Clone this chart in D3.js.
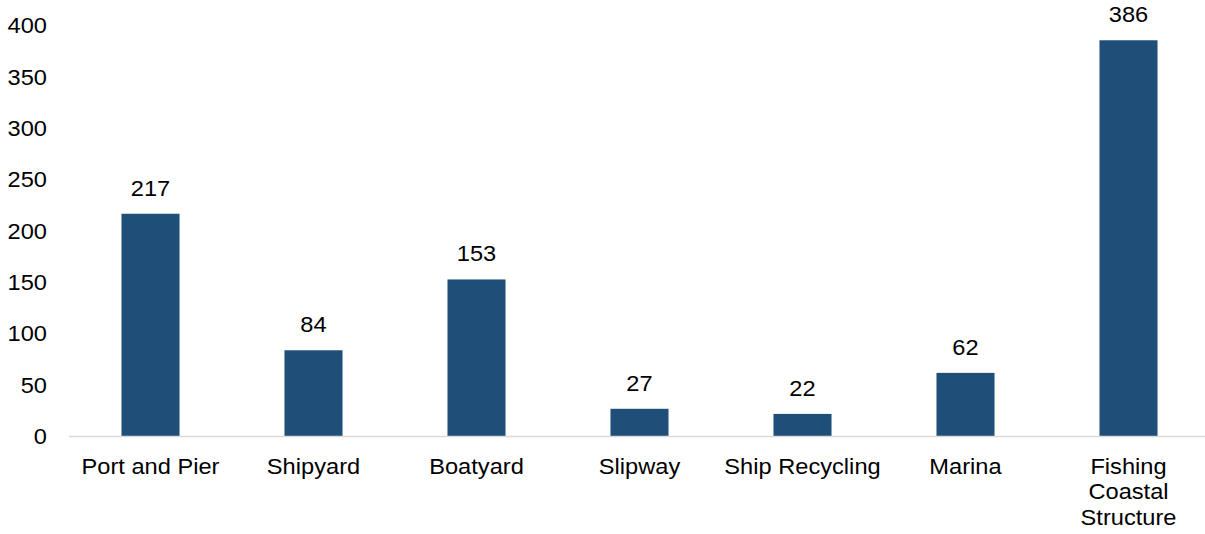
<!DOCTYPE html>
<html><head><meta charset="utf-8">
<script src="https://cdn.jsdelivr.net/npm/d3@7"></script>
<style>body{margin:0;background:#fff}svg{display:block}text{font-family:"Liberation Sans",Arial,sans-serif;fill:#000}</style>
</head><body><svg id="c" width="1205" height="534"></svg>
<script>
const categories = [["Port and Pier"],["Shipyard"],["Boatyard"],["Slipway"],["Ship Recycling"],["Marina"],["Fishing","Coastal","Structure"]];
const values = [217,84,153,27,22,62,386];
const yTicks = [0,50,100,150,200,250,300,350,400];

const svg = d3.select("#c");
const fs = 22;
const sx = 1.075;
const x = d3.scaleBand().domain(d3.range(categories.length)).range([69,1210]).paddingInner(0.644).paddingOuter(0.322);
const y = d3.scaleLinear().domain([0,400]).range([436.5,25.9]);

// y axis labels
const yAxis = d3.axisLeft(y).tickValues(yTicks).tickSize(0).tickPadding(0);
const gy = svg.append("g").attr("transform","translate(47,0)").call(yAxis);
gy.select(".domain").remove();
gy.selectAll("text").attr("font-size",fs).attr("font-family","Liberation Sans, Arial, sans-serif").attr("fill","#000")
  .attr("x",0).attr("transform",`scale(${sx},1)`);

// bars
svg.append("g").selectAll("rect").data(values).join("rect")
  .attr("x",(d,i)=>x(i)).attr("width",x.bandwidth())
  .attr("y",d=>y(d)).attr("height",d=>y(0)-y(d))
  .attr("fill","#1f4e79");

// baseline
svg.append("line").attr("x1",69).attr("x2",1205).attr("y1",y(0)).attr("y2",y(0))
  .attr("stroke","#d9d9d9").attr("stroke-width",1.5);

// value labels
svg.append("g").selectAll("text").data(values).join("text")
  .attr("transform",(d,i)=>`translate(${x(i)+x.bandwidth()/2},${y(d)-18}) scale(${sx},1)`)
  .attr("text-anchor","middle").attr("font-size",fs).text(d=>d);

// category labels
const cg = svg.append("g").selectAll("text").data(categories).join("text")
  .attr("text-anchor","middle").attr("font-size",fs)
  .attr("transform",(d,i)=>`translate(${x(i)+x.bandwidth()/2},${y(0)+37}) scale(${sx},1)`);
cg.selectAll("tspan").data(d=>d).join("tspan")
  .attr("x",0).attr("dy",(d,j)=>j===0?0:26).text(d=>d);
</script></body></html>
